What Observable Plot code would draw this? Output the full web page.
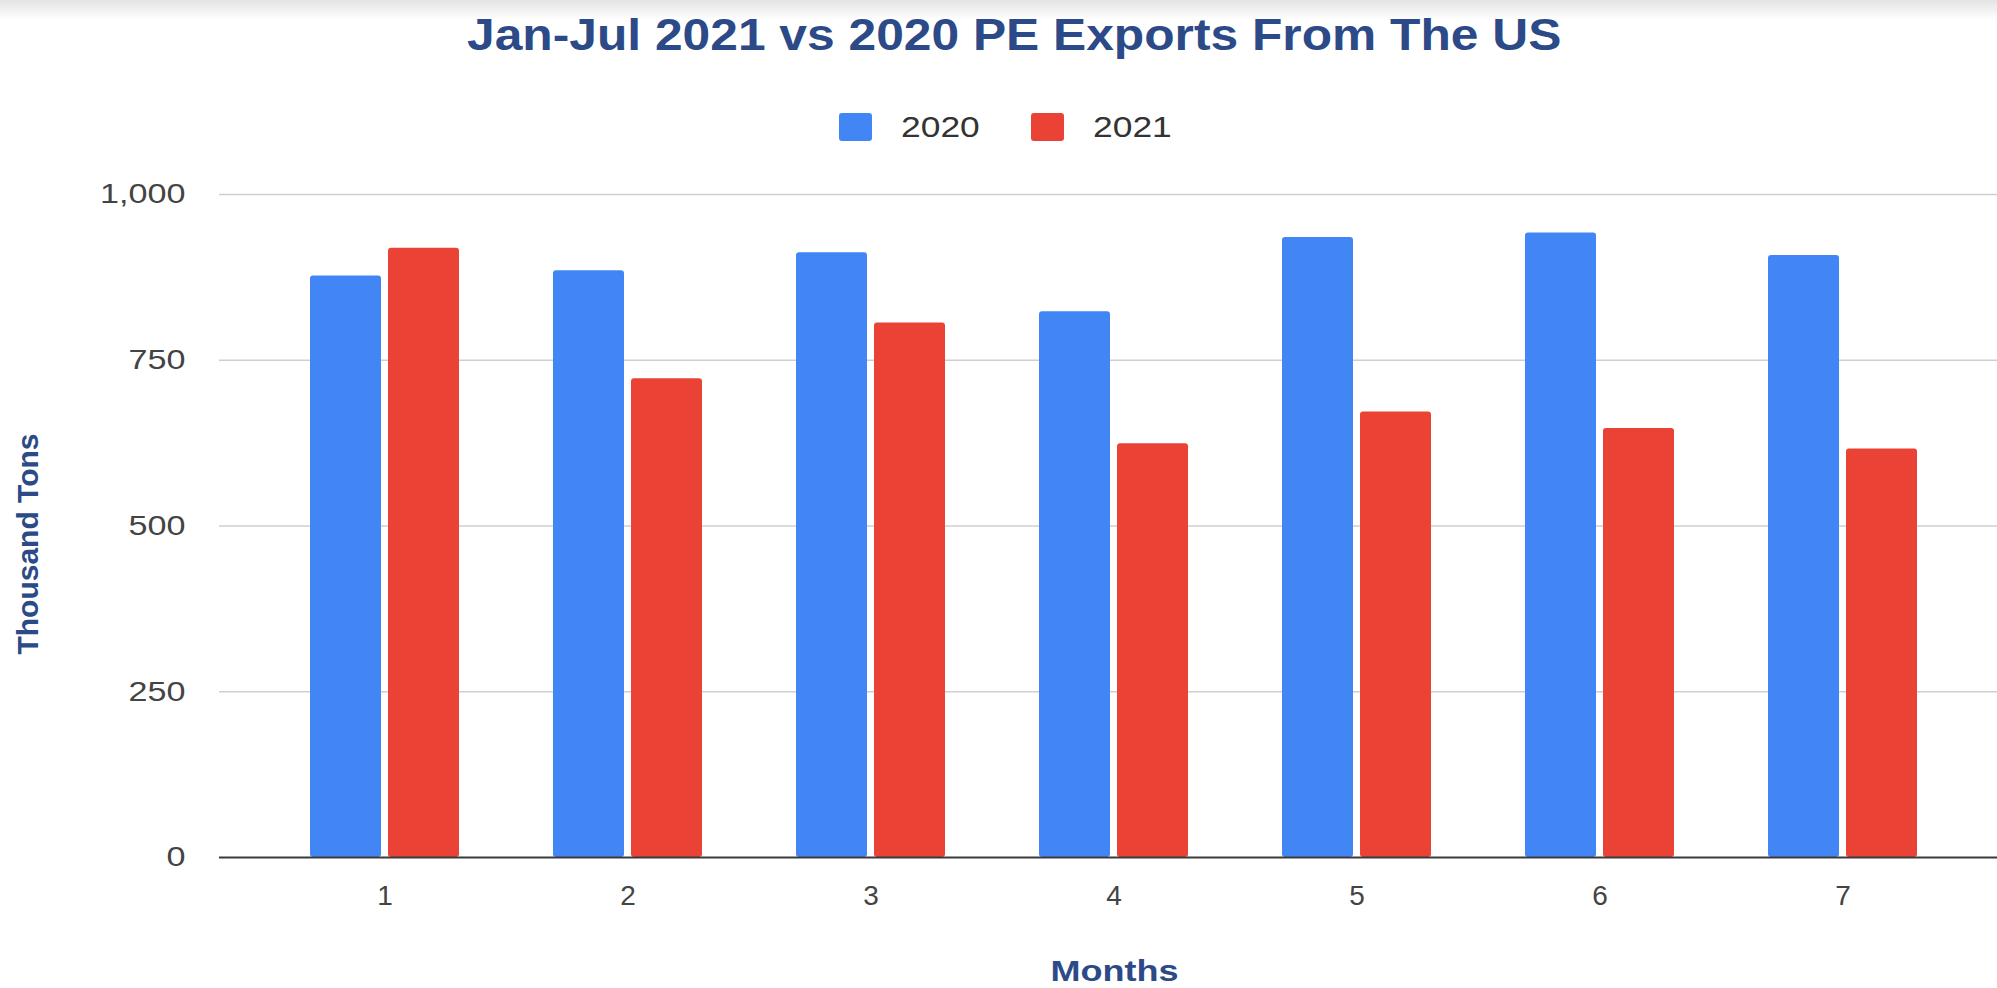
<!DOCTYPE html>
<html>
<head>
<meta charset="utf-8">
<script src="https://cdn.jsdelivr.net/npm/d3@7"></script>
<script src="https://cdn.jsdelivr.net/npm/@observablehq/plot@0.6"></script>
<style>
  html, body { margin: 0; padding: 0; }
  body {
    width: 1997px; height: 988px; overflow: hidden;
    background: linear-gradient(#e4e4e4 0px, #ffffff 20px) no-repeat, #ffffff;
    font-family: Arial, "Liberation Sans", sans-serif;
  }
  #title {
    height: 70px; line-height: 70px; text-align: center;
    font-weight: bold; font-size: 44px; color: #2b4a87;
    padding-left: 32px; box-sizing: border-box; white-space: nowrap;
  }
  #title span { display: inline-block; transform: scaleX(1.13); transform-origin: center; }
  #legend {
    height: 80px; box-sizing: border-box; padding-top: 34px; padding-left: 14px;
    display: flex; justify-content: center; align-items: center;
    font-size: 30px; color: #333; line-height: 34px;
  }
  .item { display: flex; align-items: center; height: 34px; }
  .item + .item { margin-left: 51px; }
  .swatch { width: 33px; height: 28px; border-radius: 3px; margin-right: 29px; }
  .item span { display: inline-block; transform: scaleX(1.18); transform-origin: left center; margin-right: 12px; }
</style>
</head>
<body>
<div id="title"><span></span></div>
<div id="legend"></div>
<div id="chart"></div>
<script>
const titleText = "Jan-Jul 2021 vs 2020 PE Exports From The US";
const xLabel = "Months";
const yLabel = "Thousand Tons";
const months = [1, 2, 3, 4, 5, 6, 7];
const seriesNames = ["2020", "2021"];
const seriesColors = ["#4285f4", "#ea4335"];
const values2020 = [877, 885, 912, 823, 935, 942, 908];
const values2021 = [919, 722, 806, 624, 672, 647, 616];
const yTicks = [0, 250, 500, 750, 1000];

document.querySelector("#title span").textContent = titleText;
const legend = document.getElementById("legend");
seriesNames.forEach((name, i) => {
  const item = document.createElement("div");
  item.className = "item";
  const sw = document.createElement("div");
  sw.className = "swatch";
  sw.style.background = seriesColors[i];
  const label = document.createElement("span");
  label.textContent = name;
  item.appendChild(sw);
  item.appendChild(label);
  legend.appendChild(item);
});

const rows2020 = months.map((m, i) => ({month: m, series: seriesNames[0], value: values2020[i]}));
const rows2021 = months.map((m, i) => ({month: m, series: seriesNames[1], value: values2021[i]}));

const yFormat = d3.format(",");
const font = "Arial, 'Liberation Sans', sans-serif";
const chart = Plot.plot({
  width: 1997,
  height: 838,
  marginLeft: 219,
  marginRight: 0,
  marginTop: 44,
  marginBottom: 131,
  style: {fontFamily: font, background: "transparent", overflow: "visible"},
  x: {type: "band", domain: months, paddingInner: 0.388, paddingOuter: 0.343, align: 0.53},
  y: {domain: [0, 1000]},
  marks: [
    Plot.ruleY(yTicks.filter(d => d > 0), {stroke: "#cfcfcf", strokeWidth: 1.5}),
    Plot.barY(rows2020, {x: "month", y1: 0, y2: "value", fill: seriesColors[0], insetRight: 78, rx: 3}),
    Plot.barY(rows2021, {x: "month", y1: 0, y2: "value", fill: seriesColors[1], insetLeft: 78, rx: 3}),
    Plot.ruleY([0], {stroke: "#3a3a3a", strokeWidth: 2}),
    Plot.axisY({ticks: yTicks, tickFormat: yFormat, tickSize: 0, tickPadding: 34, fontSize: 28, color: "#444", label: null}),
    Plot.axisX({tickSize: 0, tickPadding: 28, fontSize: 28, color: "#444", label: null}),
    Plot.text([yLabel], {frameAnchor: "left", textAnchor: "middle", lineAnchor: "middle", rotate: -90, dx: -191, dy: 18, fontSize: 30, fontWeight: "bold", fill: "#2b4a87"}),
    Plot.text([xLabel], {frameAnchor: "bottom", textAnchor: "middle", lineAnchor: "middle", dx: 6, dy: 114, fontSize: 30, fontWeight: "bold", fill: "#2b4a87"})
  ]
});
document.getElementById("chart").appendChild(chart);

// widen horizontal labels slightly, as in the reference rendering
const yLabels = new Set(yTicks.map(yFormat));
chart.querySelectorAll("text").forEach(t => {
  const s = t.textContent.trim();
  let factor = 0;
  if (yLabels.has(s) && t.closest('[text-anchor="end"]')) factor = 1.22;
  else if (s === xLabel) factor = 1.2;
  if (factor) {
    const len = t.getComputedTextLength();
    if (len > 0) {
      t.setAttribute("textLength", (len * factor).toFixed(1));
      t.setAttribute("lengthAdjust", "spacingAndGlyphs");
    }
  }
});
</script>
</body>
</html>
